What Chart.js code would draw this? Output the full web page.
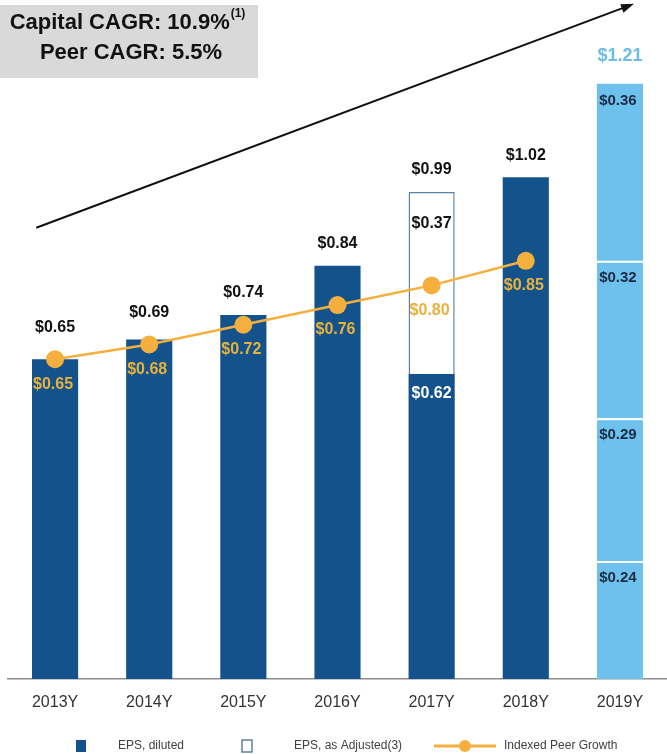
<!DOCTYPE html>
<html>
<head>
<meta charset="utf-8">
<script src="https://cdn.jsdelivr.net/npm/chart.js@4.4.1/dist/chart.umd.min.js"></script>
<style>
  html, body { margin: 0; padding: 0; background: #fff; }
  #wrap { width: 667px; height: 754px; position: relative; }
</style>
</head>
<body>
<div id="wrap"><canvas id="epsChart"></canvas></div>
<script>
// Dados
const years = ['2013Y', '2014Y', '2015Y', '2016Y', '2017Y', '2018Y', '2019Y'];
const epsDiluted = [0.65, 0.69, 0.74, 0.84, 0.62, 1.02, null];
const epsAdjusted = [null, null, null, null, 0.37, null, null];
const est2019 = [0.24, 0.29, 0.32, 0.36]; // segmentos da barra de 2019, de baixo para cima
const peerGrowth = [0.65, 0.68, 0.72, 0.76, 0.80, 0.85, null];
const legendNames = ['EPS, diluted', 'EPS, as Adjusted(3)', 'Indexed Peer Growth'];
const capitalCagr = 'Capital CAGR: 10.9%';
const capitalNote = '(1)';
const peerCagr = 'Peer CAGR: 5.5%';

const DARK = '#13528A';
const LIGHT = '#6EC1EC';
const OUTLINE = '#5B80A5';
const PEER = '#F5AF3F';
const PEER_TXT = '#E8B23A';
const FONT = '"Liberation Sans", Arial, sans-serif';

const fmt = v => '$' + v.toFixed(2);

// Datasets da barra de 2019 (um por segmento)
const seg2019 = est2019.map((v, k) => ({
  type: 'bar',
  label: '2019 part ' + (k + 1),
  data: years.map((y, i) => (i === years.length - 1 ? v : null)),
  backgroundColor: LIGHT,
  borderColor: '#ffffff',
  borderWidth: k < est2019.length - 1 ? { top: 2, left: 0, right: 0, bottom: 0 } : 0,
  borderSkipped: false,
  stack: 'eps',
  order: 1
}));

// Rótulos de valores
const labelsPlugin = {
  id: 'epsLabels',
  afterDatasetsDraw(chart) {
    const ctx = chart.ctx;
    const metaDil = chart.getDatasetMeta(0);
    const metaAdj = chart.getDatasetMeta(1);
    const peerIdx = chart.data.datasets.length - 1;
    const metaPeer = chart.getDatasetMeta(peerIdx);
    ctx.save();
    ctx.textAlign = 'center';
    ctx.textBaseline = 'middle';

    for (let i = 0; i < years.length - 1; i++) {
      const topBar = epsAdjusted[i] != null ? metaAdj.data[i] : metaDil.data[i];
      let y = topBar.y;
      if (peerGrowth[i] != null) y = Math.min(y, metaPeer.data[i].y - 10);
      const total = (epsDiluted[i] || 0) + (epsAdjusted[i] || 0);
      ctx.font = 'bold 16px ' + FONT;
      ctx.fillStyle = '#111111';
      ctx.fillText(fmt(total), topBar.x, y - 22);

      if (epsAdjusted[i] != null) {
        ctx.fillText(fmt(epsAdjusted[i]), metaAdj.data[i].x, metaAdj.data[i].y + 32);
        ctx.fillStyle = '#ffffff';
        ctx.fillText(fmt(epsDiluted[i]), metaDil.data[i].x, metaDil.data[i].y + 20);
      }
    }

    // 2019
    const last = years.length - 1;
    let topY = 0, topX = 0, sum = 0;
    est2019.forEach((v, k) => {
      const el = chart.getDatasetMeta(2 + k).data[last];
      ctx.font = 'bold 15px ' + FONT;
      ctx.fillStyle = '#1B2B44';
      ctx.fillText(fmt(v), el.x - 2, el.y + 17);
      topY = el.y; topX = el.x; sum += v;
    });
    ctx.font = 'bold 18px ' + FONT;
    ctx.fillStyle = '#6BBDE7';
    ctx.fillText(fmt(sum), topX, topY - 28);

    // Peer
    ctx.font = 'bold 16px ' + FONT;
    ctx.fillStyle = PEER_TXT;
    peerGrowth.forEach((v, i) => {
      if (v == null) return;
      const pt = metaPeer.data[i];
      ctx.fillText(fmt(v), pt.x - 2, pt.y + 25);
    });
    ctx.restore();
  }
};

// Caixa de CAGR, seta e legenda
const decorPlugin = {
  id: 'epsDecor',
  afterDraw(chart) {
    const ctx = chart.ctx;
    const xs = chart.scales.x, ys = chart.scales.y;
    ctx.save();

    // seta
    const x1 = xs.getPixelForValue(-0.2), y1 = ys.getPixelForValue(0.917);
    const x2 = xs.getPixelForValue(6.12), y2 = ys.getPixelForValue(1.37);
    ctx.strokeStyle = '#111111';
    ctx.lineWidth = 2;
    ctx.beginPath();
    ctx.moveTo(x1, y1);
    ctx.lineTo(x2, y2);
    ctx.stroke();
    const ang = Math.atan2(y2 - y1, x2 - x1);
    ctx.fillStyle = '#111111';
    ctx.beginPath();
    ctx.moveTo(x2 + 3 * Math.cos(ang), y2 + 3 * Math.sin(ang));
    ctx.lineTo(x2 - 10 * Math.cos(ang) - 4.5 * Math.sin(ang), y2 - 10 * Math.sin(ang) + 4.5 * Math.cos(ang));
    ctx.lineTo(x2 - 10 * Math.cos(ang) + 4.5 * Math.sin(ang), y2 - 10 * Math.sin(ang) - 4.5 * Math.cos(ang));
    ctx.closePath();
    ctx.fill();

    // caixa cinza
    ctx.fillStyle = '#D9D9D9';
    ctx.fillRect(0, 5, 258, 73);
    ctx.fillStyle = '#111111';
    ctx.textBaseline = 'middle';
    ctx.font = 'bold 22px ' + FONT;
    const w1 = ctx.measureText(capitalCagr).width;
    ctx.font = 'bold 12px ' + FONT;
    const wn = ctx.measureText(capitalNote).width;
    let sx = 127 - (w1 + wn) / 2;
    ctx.textAlign = 'left';
    ctx.font = 'bold 22px ' + FONT;
    ctx.fillText(capitalCagr, sx, 23);
    ctx.font = 'bold 12px ' + FONT;
    ctx.fillText(capitalNote, sx + w1 + 1, 14);
    ctx.font = 'bold 22px ' + FONT;
    ctx.textAlign = 'center';
    ctx.fillText(peerCagr, 131, 53);

    // legenda
    const ly = 746;
    ctx.fillStyle = DARK;
    ctx.fillRect(76, ly - 6, 10, 12);
    ctx.strokeStyle = OUTLINE;
    ctx.lineWidth = 1.5;
    ctx.strokeRect(242, ly - 6, 10, 12);
    ctx.strokeStyle = PEER;
    ctx.lineWidth = 3;
    ctx.beginPath();
    ctx.moveTo(434, ly);
    ctx.lineTo(496, ly);
    ctx.stroke();
    ctx.fillStyle = PEER;
    ctx.beginPath();
    ctx.arc(465, ly, 6, 0, Math.PI * 2);
    ctx.fill();
    ctx.fillStyle = '#404040';
    ctx.font = '12px ' + FONT;
    ctx.textAlign = 'left';
    ctx.fillText(legendNames[0], 118, ly);
    ctx.fillText(legendNames[1], 294, ly);
    ctx.fillText(legendNames[2], 504, ly);
    ctx.restore();
  }
};

const chart = new Chart(document.getElementById('epsChart'), {
  data: {
    labels: years,
    datasets: [
      {
        type: 'bar',
        label: legendNames[0],
        data: epsDiluted,
        backgroundColor: DARK,
        borderWidth: 0,
        stack: 'eps',
        order: 1
      },
      {
        type: 'bar',
        label: legendNames[1],
        data: epsAdjusted,
        backgroundColor: '#ffffff',
        borderColor: OUTLINE,
        borderWidth: { top: 1.5, left: 1.5, right: 1.5, bottom: 0 },
        borderSkipped: false,
        stack: 'eps',
        order: 1
      },
      ...seg2019,
      {
        type: 'line',
        label: legendNames[2],
        data: peerGrowth,
        borderColor: PEER,
        backgroundColor: PEER,
        borderWidth: 2.5,
        pointRadius: 9,
        pointBorderWidth: 0,
        pointBackgroundColor: PEER,
        stack: 'peer',
        order: 0
      }
    ]
  },
  options: {
    responsive: true,
    maintainAspectRatio: false,
    animation: false,
    layout: { autoPadding: false, padding: { left: 8, right: 0, top: 0, bottom: 0 } },
    datasets: { bar: { categoryPercentage: 1, barPercentage: 0.49 } },
    plugins: {
      legend: { display: false },
      tooltip: { enabled: false }
    },
    scales: {
      x: {
        stacked: true,
        grid: { display: false, drawTicks: false },
        border: { display: true, color: '#8C8C8C', width: 1.5 },
        ticks: { color: '#333333', font: { family: FONT, size: 16 }, padding: 14, maxRotation: 0 },
        afterFit: s => { s.height = 75; s.paddingLeft = 0; s.paddingRight = 0; }
      },
      y: {
        stacked: true,
        display: false,
        min: 0,
        max: 1.38
      }
    }
  },
  plugins: [labelsPlugin, decorPlugin]
});
</script>
</body>
</html>
